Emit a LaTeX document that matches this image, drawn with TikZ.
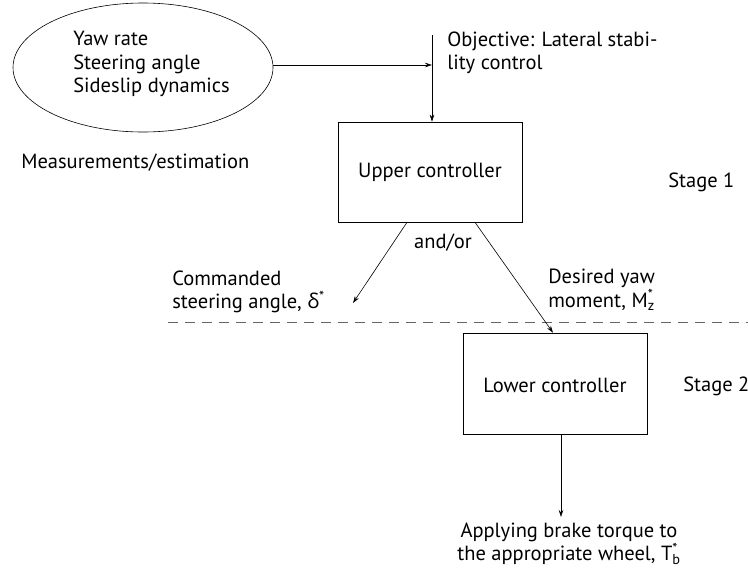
\documentclass[tikz,border=0pt]{standalone}
\usepackage{fontspec}
\setmainfont{PT Sans}
\newfontfamily\greekfont{Open Sans}
\usetikzlibrary{arrows.meta,shapes.geometric,positioning}

\begin{document}
\begin{tikzpicture}[x=1pt,y=-1pt,line width=0.6pt,
    >={Stealth[length=7pt,width=4.5pt]},
    font=\fontsize{20.5}{23.5}\selectfont]
    \tikzstyle{ctrl}=[rectangle,draw,minimum width=184pt,inner sep=0pt]
    \tikzstyle{lbl}=[align=left,anchor=west,inner sep=0pt]
    \useasboundingbox (0,0) rectangle (748,574);

    % measurements
    \node[ellipse,draw,minimum width=260pt,minimum height=129pt,inner sep=0pt] (meas) at (143,67.5) {};
    \node[lbl] (measTxt) at (73,64) {Yaw rate\\Steering angle\\Sideslip dynamics};
    \node[lbl] (measLbl) at (21,163) {Measurements/estimation};

    % upper stage
    \node[ctrl,minimum height=100pt] (upper) at (430,172) {Upper controller};
    \coordinate (objTop) at (432,35);
    \coordinate (objHit) at (432,65);
    \node[lbl] (objective) at (447,53) {Objective: Lateral stabi-\\lity control};
    \node[lbl] (stage1) at (668,182) {Stage 1};
    \node (andor) at (443,243) {and/or};

    \draw[->] (meas.east |- objHit) -- (objHit);
    \draw[->] (objTop) -- (objTop |- upper.north);

    % outputs of upper controller
    \coordinate (steerTip) at (353,303);
    \node[lbl] (steer) at (172,292) {Commanded\\steering angle, {\greekfont δ}\textsuperscript{*}};
    \node[lbl] (moment) at (548,290) {Desired yaw\\moment, M\rlap{\textsuperscript{*}}\textsubscript{z}};

    \draw[dash pattern=on 10pt off 7pt,draw=black!60] (168,322) -- (748,322);

    % lower stage
    \node[ctrl,minimum height=101pt] (lower) at (555,383.5) {};
    \node (lowerTxt) at (555,385) {Lower controller};
    \node[lbl] (stage2) at (683,386) {Stage 2};
    \coordinate (brakeTip) at (561,517);
    \node[align=center,inner sep=0pt] (brake) at (569,544) {Applying brake torque to\\the appropriate wheel, T\rlap{\textsuperscript{*}}\textsubscript{b}};

    \draw[->] ([xshift=-23pt]upper.south) -- (steerTip);
    \draw[->] ([xshift=45pt]upper.south) -- ([xshift=-2pt]lower.north);
    \draw[->] (lower.south -| brakeTip) -- (brakeTip);
\end{tikzpicture}
\end{document}
